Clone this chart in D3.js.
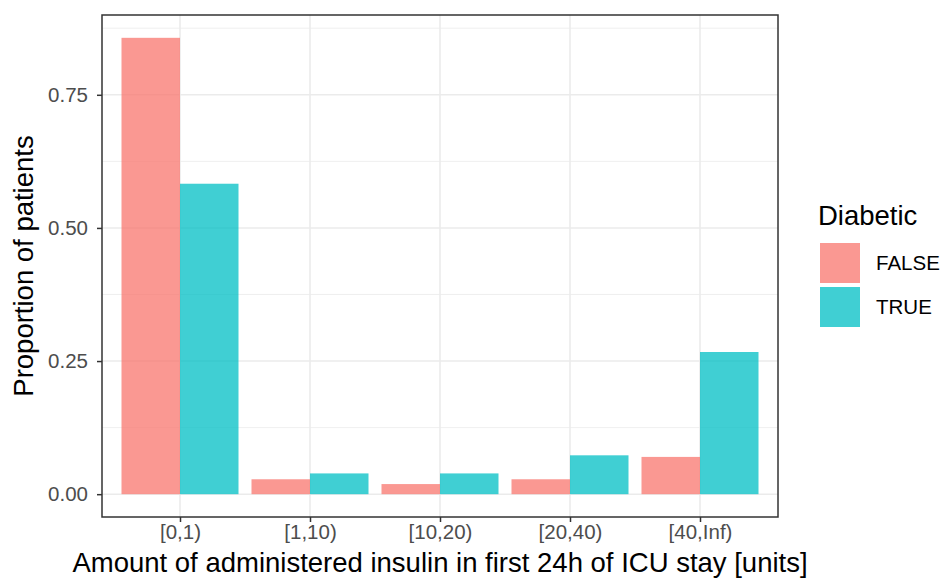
<!DOCTYPE html>
<html><head><meta charset="utf-8">
<script src="https://cdn.jsdelivr.net/npm/d3@7/dist/d3.min.js"></script>
<style>body{margin:0;background:#fff;} text{font-family:"Liberation Sans",Arial,sans-serif;}</style>
</head><body><svg id="c" width="942" height="580"></svg>
<script>
const categories = ["[0,1)", "[1,10)", "[10,20)", "[20,40)", "[40,Inf)"];
const groups = ["FALSE", "TRUE"];
const valuesFalse = [0.857, 0.028, 0.019, 0.028, 0.070];
const valuesTrue = [0.583, 0.039, 0.039, 0.073, 0.267];
const yTicks = [0, 0.25, 0.5, 0.75];
const yMinor = [0.125, 0.375, 0.625, 0.875];
const colors = ["#F8766D", "#00BFC4"];

const svg = d3.select("#c");
const L = 102, R = 778, T = 15, B = 517;
const maxV = d3.max(valuesFalse.concat(valuesTrue));
const y = d3.scaleLinear().domain([-maxV*0.05, maxV*1.05]).range([B, T]);
const x = d3.scaleLinear().domain([0.4, categories.length + 0.6]).range([L, R]);
const bw = x(1.45) - x(1);

// grid
svg.append("g").selectAll("line").data(yMinor).join("line")
  .attr("x1", L).attr("x2", R).attr("y1", d=>y(d)).attr("y2", d=>y(d))
  .attr("stroke", "#EBEBEB").attr("stroke-width", 0.8);
svg.append("g").selectAll("line").data(yTicks).join("line")
  .attr("x1", L).attr("x2", R).attr("y1", d=>y(d)).attr("y2", d=>y(d))
  .attr("stroke", "#EBEBEB").attr("stroke-width", 1.6);
svg.append("g").selectAll("line").data(categories).join("line")
  .attr("y1", T).attr("y2", B).attr("x1", (d,i)=>x(i+1)).attr("x2", (d,i)=>x(i+1))
  .attr("stroke", "#EBEBEB").attr("stroke-width", 1.6);

// bars
const series = [valuesFalse, valuesTrue];
series.forEach((vals, g) => {
  svg.append("g").selectAll("rect").data(vals).join("rect")
    .attr("x", (d,i)=> x(i+1) - bw + g*bw)
    .attr("width", bw)
    .attr("y", d=>y(d)).attr("height", d=>y(0)-y(d))
    .attr("fill", colors[g]).attr("fill-opacity", 0.75);
});

// panel border
svg.append("rect").attr("x", L).attr("y", T).attr("width", R-L).attr("height", B-T)
  .attr("fill", "none").attr("stroke", "#333333").attr("stroke-width", 1.5);

// axes
const yAxis = svg.append("g").attr("transform", `translate(${L},0)`)
  .call(d3.axisLeft(y).tickValues(yTicks).tickFormat(d3.format(".2f")).tickSize(5).tickPadding(9));
const xAxis = svg.append("g").attr("transform", `translate(0,${B})`)
  .call(d3.axisBottom(x).tickValues(categories.map((d,i)=>i+1)).tickFormat((d)=>categories[d-1]).tickSize(5).tickPadding(2));
[yAxis, xAxis].forEach(a => {
  a.attr("font-family", null).attr("font-size", null);
  a.select(".domain").remove();
  a.selectAll(".tick line").attr("stroke", "#333333").attr("stroke-width", 1.5);
  a.selectAll(".tick text").attr("fill", "#4D4D4D").style("font-size", "20.5px");
});

// titles
svg.append("text").attr("x", (L+R)/2).attr("y", 572).attr("text-anchor", "middle")
  .style("font-size", "27.5px").attr("fill", "#000")
  .text("Amount of administered insulin in first 24h of ICU stay [units]");
svg.append("text").attr("transform", `translate(33,${(T+B)/2}) rotate(-90)`).attr("text-anchor", "middle")
  .style("font-size", "27.5px").attr("fill", "#000").text("Proportion of patients");

// legend
const lg = svg.append("g");
lg.append("text").attr("x", 818).attr("y", 225).style("font-size", "27.5px").text("Diabetic");
groups.forEach((g, i) => {
  lg.append("rect").attr("x", 820).attr("y", 243 + i*44).attr("width", 40).attr("height", 40)
    .attr("fill", colors[i]).attr("fill-opacity", 0.75);
  lg.append("text").attr("x", 876).attr("y", 263 + i*44).attr("dy", "0.35em")
    .style("font-size", "20.5px").text(g);
});
</script></body></html>
